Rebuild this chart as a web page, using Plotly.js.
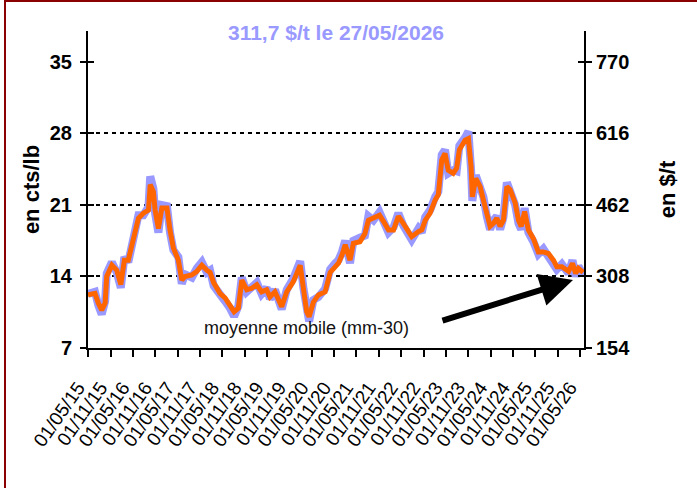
<!DOCTYPE html>
<html>
<head>
<meta charset="utf-8">
<script src="https://cdn.plot.ly/plotly-3.0.1.min.js"></script>
<style>
  html, body { margin:0; padding:0; background:#fff; }
  #wrap { position:relative; width:697px; height:488px; overflow:hidden; }
  #chart { position:absolute; left:0; top:0; width:697px; height:488px; }
  #frame { position:absolute; left:4px; top:0; width:700px; height:500px;
           border-left:2px solid #8b0000; border-top:2px solid #8b0000; pointer-events:none; }
</style>
</head>
<body>
<div id="wrap"><div id="chart"></div><div id="frame"></div></div>
<script>
// Dates of the readings
const dates = [
 '2015-05-01','2015-06-27','2015-07-24','2015-08-21','2015-09-18','2015-10-01','2015-11-12','2015-12-22',
 '2016-01-24','2016-02-22','2016-03-25','2016-04-22','2016-05-19','2016-06-16','2016-07-26','2016-09-06',
 '2016-09-20','2016-10-16','2016-10-30','2016-11-26','2016-12-24','2017-02-04','2017-03-01','2017-03-28',
 '2017-05-08','2017-06-05','2017-07-02','2017-08-26','2017-10-06','2017-11-16','2017-12-27','2018-01-22',
 '2018-02-20','2018-04-13','2018-05-24','2018-07-04','2018-08-06','2018-09-10','2018-10-08','2018-11-18',
 '2018-12-29','2019-02-08','2019-03-19','2019-04-29','2019-05-26','2019-07-06','2019-08-30','2019-10-10',
 '2019-12-03','2020-01-28','2020-02-24','2020-03-21','2020-04-10','2020-05-15','2020-06-25','2020-08-19',
 '2020-09-29','2020-11-09','2020-12-06','2021-01-03','2021-01-30','2021-03-10','2021-04-06','2021-05-30',
 '2021-07-10','2021-08-07','2021-09-17','2021-11-06','2021-12-08','2022-01-18','2022-02-28','2022-04-09',
 '2022-05-19','2022-06-29','2022-07-27','2022-09-20','2022-10-17','2022-11-14','2022-12-24','2023-02-04',
 '2023-03-01','2023-03-29','2023-04-25','2023-05-21','2023-07-01','2023-07-29','2023-08-20','2023-10-06',
 '2023-11-02','2023-11-24','2023-12-04','2024-01-01','2024-02-06','2024-03-03','2024-03-31','2024-04-27',
 '2024-05-24','2024-06-21','2024-07-18','2024-08-14','2024-09-11','2024-10-08','2024-11-18','2024-12-15',
 '2025-01-06','2025-02-03','2025-03-06','2025-04-16','2025-05-26','2025-07-06','2025-08-16','2025-09-26',
 '2025-10-24','2025-12-04','2026-01-28','2026-03-01','2026-03-27','2026-04-18','2026-05-27'
];
// Daily price (cts/lb), read from the blue series
const dailyPrice = [
 12.3,12.5,11.2,10.3,11.6,14.3,15.4,14.4,
 12.9,15.9,15.4,17.2,18.5,20.0,20.0,20.8,
 23.8,22.6,20.2,18.3,21.0,20.9,18.3,16.6,
 15.9,13.3,14.2,13.9,14.8,15.4,14.4,14.6,
 13.1,12.1,11.6,10.9,10.1,11.1,13.9,12.5,
 13.0,13.4,12.3,12.9,11.8,12.7,10.8,12.7,
 13.8,15.5,12.8,10.3,9.6,11.7,12.0,12.8,
 14.7,15.3,15.6,16.4,17.5,15.3,17.5,17.8,
 18.0,19.9,19.5,20.3,19.2,18.3,18.8,20.2,
 19.0,18.1,17.6,18.7,18.3,19.8,20.5,21.8,
 22.3,25.9,26.4,24.1,24.4,24.3,26.8,27.6,
 28.2,24.4,21.4,23.9,22.5,21.8,19.9,18.6,
 19.5,19.9,18.6,19.8,23.2,22.3,21.0,19.2,
 18.6,20.7,18.3,17.4,16.2,16.7,16.0,15.4,
 14.7,15.2,14.3,15.6,14.0,15.0,14.14
];
// 30-day moving average (cts/lb), read from the orange series
const movingAvg = [
 12.2,12.35,11.4,10.7,11.4,14.0,15.1,14.6,
 13.2,15.6,15.6,16.9,18.25,19.7,20.2,20.5,
 23.0,22.3,20.5,18.7,20.7,20.7,18.55,16.8,
 15.6,13.65,14.0,14.15,14.5,15.1,14.6,14.4,
 13.4,12.35,11.9,11.05,10.55,10.9,13.65,12.7,
 12.85,13.2,12.5,12.7,12.0,12.5,11.05,12.5,
 13.5,15.1,13.0,10.55,10.06,11.5,12.2,12.5,
 14.4,15.0,15.3,16.1,17.1,15.6,17.25,17.4,
 18.2,19.5,19.7,20.0,19.4,18.55,18.55,19.9,
 19.2,18.4,17.9,18.4,18.55,19.5,20.2,21.5,
 22.0,25.4,26.05,24.4,24.1,24.6,26.4,27.35,
 27.5,24.75,21.8,23.6,22.8,21.5,20.2,18.9,
 19.2,19.7,18.9,19.5,22.8,22.5,21.2,19.5,
 18.9,20.35,18.55,17.7,16.4,16.4,16.25,15.6,
 14.95,14.95,14.5,15.3,14.3,14.8,14.4
];
const leftTicks = [7,14,21,28,35];
const rightTicks = [154,308,462,616,770];
const gridLevels = [14,21,28];
const titleText = '311,7 $/t le 27/05/2026';
const noteText = 'moyenne mobile (mm-30)';

const FONT = 'Liberation Sans, Arial, sans-serif';
const yRange = [7, 38.03];
const y2Range = [154, 38.03*22];

const traces = [
  { x: dates, y: dailyPrice, type:'scatter', mode:'lines', name:'cours',
    line:{color:'#9999ff', width:8}, hoverinfo:'skip', showlegend:false },
  { x: dates, y: movingAvg, type:'scatter', mode:'lines', name:'mm-30',
    line:{color:'#ff6600', width:5}, showlegend:false }
];

const baseY = { range:yRange, showgrid:false, zeroline:false, fixedrange:true };
const layout = {
  width:697, height:488,
  margin:{l:88, r:113, t:31, b:140, pad:0},
  paper_bgcolor:'#ffffff', plot_bgcolor:'rgba(0,0,0,0)',
  showlegend:false,
  font:{family:FONT, color:'#000'},
  title:{ text:titleText, font:{family:FONT, size:21, weight:'bold', color:'#9999ff'},
          xref:'paper', x:0.5, xanchor:'center', yref:'container', y:1-33/488, yanchor:'middle' },
  xaxis:{ type:'date', range:['2015-05-01','2026-06-03'], tick0:'2015-05-01', dtick:'M6',
          tickformat:'%d/%m/%y', tickangle:-55, ticks:'outside', ticklen:7, tickwidth:2, tickcolor:'#000',
          showline:true, linewidth:2, linecolor:'#000', showgrid:false, zeroline:false,
          ticklabelstandoff:12, ticklabelshift:-10,
          tickfont:{family:FONT, size:19, color:'#000'} },
  yaxis: Object.assign({}, baseY, {
          tickvals:leftTicks, ticks:'outside', ticklen:6, tickwidth:2, tickcolor:'#000',
          showline:true, linewidth:2, linecolor:'#000', ticklabelstandoff:4,
          tickfont:{family:FONT, size:20, weight:'bold', color:'#000'},
          title:{text:'en cts/lb', font:{family:FONT, size:22, weight:'bold', color:'#000'}, standoff:4} }),
  yaxis2:{ overlaying:'y', side:'right', range:y2Range, tickvals:rightTicks, ticks:'outside', ticklen:6, tickwidth:2,
          tickcolor:'#000', showline:true, linewidth:2, linecolor:'#000', showgrid:false, zeroline:false,
          tickfont:{family:FONT, size:20, weight:'bold', color:'#000'},
          title:{text:'en $/t', font:{family:FONT, size:22, weight:'bold', color:'#000'}, standoff:30} },
  yaxis3: Object.assign({}, baseY, { overlaying:'y', side:'left', tickvals:gridLevels, showgrid:true,
          griddash:'4px,4px', gridcolor:'#000', gridwidth:2, ticks:'', showticklabels:false, showline:false }),
  yaxis4: Object.assign({}, baseY, { overlaying:'y', side:'left', tickvals:leftTicks, ticks:'inside', ticklen:6,
          tickwidth:2, tickcolor:'#000', showticklabels:false, showline:false }),
  yaxis5:{ overlaying:'y', side:'right', range:y2Range, tickvals:rightTicks, ticks:'inside', ticklen:6, tickwidth:2,
          tickcolor:'#000', showticklabels:false, showline:false, showgrid:false, zeroline:false },
  annotations:[
    { text:noteText, xref:'paper', yref:'paper', x:(306-88)/496, y:(348-328)/317, xanchor:'center', yanchor:'middle',
      showarrow:false, font:{family:FONT, size:18, color:'#111'} },
    { text:'', xref:'paper', yref:'paper', x:(573-88)/496, y:(348-280)/317, showarrow:true,
      axref:'pixel', ayref:'pixel', ax:-132, ay:41, arrowhead:2, arrowsize:1.1, arrowwidth:6, arrowcolor:'#000' }
  ]
};

// helper traces so the extra axes render
traces.push({ x:[dates[0]], y:[null], yaxis:'y2', mode:'lines', showlegend:false, hoverinfo:'skip' });
traces.push({ x:[dates[0]], y:[null], yaxis:'y3', mode:'lines', showlegend:false, hoverinfo:'skip' });
traces.push({ x:[dates[0]], y:[null], yaxis:'y4', mode:'lines', showlegend:false, hoverinfo:'skip' });
traces.push({ x:[dates[0]], y:[null], yaxis:'y5', mode:'lines', showlegend:false, hoverinfo:'skip' });

Plotly.newPlot('chart', traces, layout, {staticPlot:true, displayModeBar:false});
</script>
</body>
</html>
